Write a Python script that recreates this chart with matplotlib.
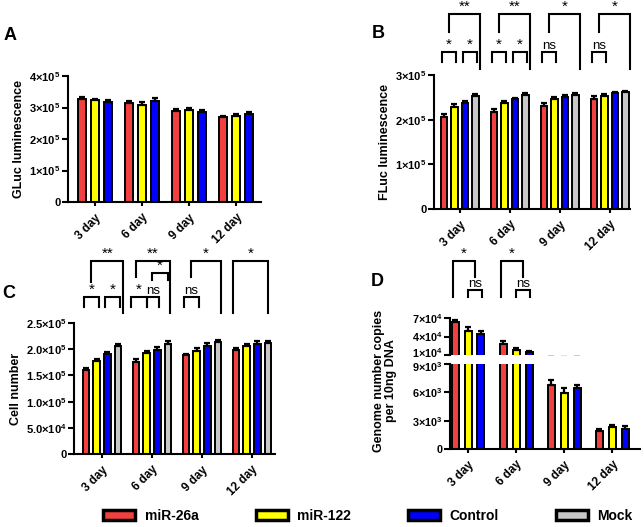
import numpy as np
import matplotlib.pyplot as plt
from matplotlib.patches import Patch
from matplotlib.transforms import blended_transform_factory, ScaledTranslation

plt.rcParams['font.family'] = ['Liberation Sans', 'DejaVu Sans']
plt.rcParams['font.weight'] = 'bold'
plt.rcParams['mathtext.fontset'] = 'custom'
plt.rcParams['mathtext.rm'] = 'Liberation Sans:bold'
plt.rcParams['mathtext.bf'] = 'Liberation Sans:bold'
plt.rcParams['mathtext.it'] = 'Liberation Sans:bold'

days = ['3 day', '6 day', '9 day', '12 day']
groups = ['miR-26a', 'miR-122', 'Control', 'Mock']
colors = ['#f24040', '#ffff00', '#0000ff', '#c8c8c8']

# A: GLuc luminescence (miR-26a, miR-122, Control)
gluc_mir26a = [3.28e5, 3.15e5, 2.90e5, 2.70e5]
gluc_mir122 = [3.23e5, 3.08e5, 2.93e5, 2.72e5]
gluc_control = [3.18e5, 3.22e5, 2.86e5, 2.80e5]
gluc_err = [[0.06e5, 0.05e5, 0.04e5, 0.04e5],
            [0.04e5, 0.10e5, 0.07e5, 0.06e5],
            [0.06e5, 0.07e5, 0.06e5, 0.05e5]]
gluc_ticks = [0, 1e5, 2e5, 3e5, 4e5]
gluc_ticklabels = ['0', '1×10$^{5}$', '2×10$^{5}$', '3×10$^{5}$', '4×10$^{5}$']

# B: FLuc luminescence
fluc_mir26a = [2.07e5, 2.17e5, 2.30e5, 2.46e5]
fluc_mir122 = [2.28e5, 2.38e5, 2.46e5, 2.52e5]
fluc_control = [2.38e5, 2.46e5, 2.50e5, 2.60e5]
fluc_mock = [2.52e5, 2.56e5, 2.56e5, 2.62e5]
fluc_err = [[0.05e5, 0.06e5, 0.08e5, 0.07e5],
            [0.06e5, 0.04e5, 0.05e5, 0.05e5],
            [0.04e5, 0.03e5, 0.05e5, 0.03e5],
            [0.05e5, 0.03e5, 0.03e5, 0.03e5]]
fluc_ticks = [0, 1e5, 2e5, 3e5]
fluc_ticklabels = ['0', '1×10$^{5}$', '2×10$^{5}$', '3×10$^{5}$']

# C: cell number
cell_mir26a = [1.61e5, 1.76e5, 1.88e5, 1.98e5]
cell_mir122 = [1.78e5, 1.92e5, 1.97e5, 2.06e5]
cell_control = [1.91e5, 1.99e5, 2.06e5, 2.10e5]
cell_mock = [2.06e5, 2.10e5, 2.13e5, 2.11e5]
cell_err = [[0.03e5, 0.05e5, 0.03e5, 0.04e5],
            [0.03e5, 0.04e5, 0.05e5, 0.04e5],
            [0.03e5, 0.06e5, 0.05e5, 0.06e5],
            [0.04e5, 0.05e5, 0.04e5, 0.05e5]]
cell_ticks = [0, 0.5e5, 1.0e5, 1.5e5, 2.0e5, 2.5e5]
cell_ticklabels = ['0', '5.0×10$^{4}$', '1.0×10$^{5}$', '1.5×10$^{5}$',
                   '2.0×10$^{5}$', '2.5×10$^{5}$']

# D: genome copies per 10ng DNA (broken axis)
gen_mir26a = [6.35e4, 2.75e4, 6750, 1900]
gen_mir122 = [4.9e4, 1.8e4, 5930, 2330]
gen_control = [4.4e4, 1.45e4, 6460, 2150]
gen_err = [[2500, 6000, 600, 250],
           [6000, 4000, 500, 250],
           [5500, 1500, 350, 300]]
gen_ticks_top = [1e4, 4e4, 7e4]
gen_ticklabels_top = ['1×10$^{4}$', '4×10$^{4}$', '7×10$^{4}$']
gen_ticks_bot = [0, 3e3, 6e3, 9e3]
gen_ticklabels_bot = ['0', '3×10$^{3}$', '6×10$^{3}$', '9×10$^{3}$']

W, H = 644, 527
fig = plt.figure(figsize=(W / 100, H / 100), dpi=100)


def px_axes(l, t, r, b):
    return fig.add_axes([l / W, 1 - b / H, (r - l) / W, (b - t) / H])


def style(ax, xlabels=True):
    for s in ['top', 'right']:
        ax.spines[s].set_visible(False)
    for s in ['left', 'bottom']:
        ax.spines[s].set_linewidth(1.5)
    ax.tick_params(axis='y', direction='out', length=4, width=1.5, labelsize=8, pad=1.5)
    ax.tick_params(axis='x', direction='out', length=3, width=1.5, labelsize=8.5, pad=4)
    ax.set_xticks(np.arange(len(days)))
    if xlabels:
        ax.set_xticklabels(days, rotation=45, ha='right', rotation_mode='anchor')
    for t in ax.get_xticklabels() + ax.get_yticklabels():
        t.set_fontweight('bold')


def draw_bars(ax, series, errs, spacing, width):
    x = np.arange(len(days))
    n = len(series)
    offs = (np.arange(n) - (n - 1) / 2) * spacing
    for i in range(n):
        ax.bar(x + offs[i], series[i], width, color=colors[i], edgecolor='black',
               linewidth=1.4, zorder=2)
        ax.errorbar(x + offs[i], series[i], yerr=[np.zeros(len(days)), errs[i]],
                    fmt='none', ecolor='black', elinewidth=1.6, capsize=2.5,
                    capthick=1.6, zorder=3)
    return offs


def bracket(ax, x1, x2, ytop, yl, yr, label):
    tr = blended_transform_factory(ax.transData, ax.transAxes)
    ax.plot([x1, x1, x2, x2], [yl, ytop, ytop, yr], color='black', lw=1.5,
            transform=tr, clip_on=False, solid_joinstyle='miter')
    fs = 9.5 if label == 'ns' else 11
    ax.text((x1 + x2) / 2, ytop, label, transform=tr, ha='center', va='bottom',
            fontsize=fs, fontweight='normal')


# ---- Panel A
axA = px_axes(68, 76, 261, 202)
draw_bars(axA, [gluc_mir26a, gluc_mir122, gluc_control], gluc_err, 0.277, 0.17)
axA.set_xlim(-0.574, 3.53)
axA.set_ylim(0, 4e5)
axA.set_yticks(gluc_ticks)
axA.set_yticklabels(gluc_ticklabels)
axA.set_ylabel('GLuc luminescence', fontsize=9, fontweight='bold', labelpad=3)
style(axA)

# ---- Panel B
axB = px_axes(434, 75, 630, 209)
offB = draw_bars(axB, [fluc_mir26a, fluc_mir122, fluc_control, fluc_mock], fluc_err, 0.21, 0.13)
axB.set_xlim(-0.51, 3.41)
axB.set_ylim(0, 3e5)
axB.set_yticks(fluc_ticks)
axB.set_yticklabels(fluc_ticklabels)
axB.set_ylabel('FLuc luminescence', fontsize=9, fontweight='bold', labelpad=3)
style(axB)
for g in range(4):
    r, y, b, m = g + offB
    big = '**' if g < 2 else '*'
    if g < 2:
        bracket(axB, r - 0.04, y + 0.04, 1.172, 1.097, 1.097, '*')
        bracket(axB, b - 0.04, m + 0.04, 1.172, 1.097, 1.097, '*')
    else:
        bracket(axB, r - 0.04, y + 0.04, 1.172, 1.097, 1.097, 'ns')
    bracket(axB, (r + y) / 2, m + 0.09, 1.455, 1.32, 1.045, big)

# ---- Panel C
axC = px_axes(74, 323, 275, 454)
offC = draw_bars(axC, [cell_mir26a, cell_mir122, cell_control, cell_mock], cell_err, 0.214, 0.13)
axC.set_xlim(-0.56, 3.46)
axC.set_ylim(0, 2.5e5)
axC.set_yticks(cell_ticks)
axC.set_yticklabels(cell_ticklabels)
axC.set_ylabel('Cell number', fontsize=9, fontweight='bold', labelpad=3)
style(axC)
r, y, b, m = 0 + offC
bracket(axC, r - 0.04, y + 0.04, 1.198, 1.122, 1.122, '*')
bracket(axC, b - 0.04, m + 0.04, 1.198, 1.122, 1.122, '*')
bracket(axC, (r + y) / 2, m + 0.1, 1.473, 1.313, 1.076, '**')
r, y, b, m = 1 + offC
bracket(axC, r - 0.1, y - 0.0, 1.198, 1.122, 1.122, '*')
bracket(axC, y - 0.0, b + 0.03, 1.198, 1.122, 1.122, 'ns')
bracket(axC, (y + b) / 2, m, 1.382, 1.328, 1.328, '*')
bracket(axC, r, m + 0.03, 1.473, 1.351, 1.076, '**')
r, y, b, m = 2 + offC
bracket(axC, r - 0.04, y + 0.04, 1.198, 1.122, 1.122, 'ns')
bracket(axC, (r + y) / 2, m + 0.06, 1.473, 1.351, 1.076, '*')
r, y, b, m = 3 + offC
bracket(axC, r - 0.06, m, 1.473, 1.076, 1.076, '*')

# ---- Panel D (broken y axis)
axDt = px_axes(450, 318, 640, 355)
axDb = px_axes(450, 364, 640, 449)
gen_series = [gen_mir26a, gen_mir122, gen_control]
offD = draw_bars(axDb, gen_series, gen_err, 0.27, 0.146)
draw_bars(axDt, gen_series, gen_err, 0.27, 0.146)
for ax in (axDt, axDb):
    ax.set_xlim(-0.375, 3.58)
axDb.set_ylim(0, 9e3)
axDt.set_ylim(1e4, 7e4)
axDb.set_yticks(gen_ticks_bot)
axDb.set_yticklabels(gen_ticklabels_bot)
axDt.set_yticks(gen_ticks_top)
axDt.set_yticklabels(gen_ticklabels_top)
style(axDb)
style(axDt, xlabels=False)
axDt.spines['bottom'].set_visible(False)
axDt.tick_params(axis='x', bottom=False, labelbottom=False)
axDt.tick_params(axis='y', labelsize=7.8)
axDb.tick_params(axis='y', labelsize=7.8)
# nudge the two labels at the axis break apart a little
lab_1e4 = axDt.get_yticklabels()[0]
lab_1e4.set_transform(lab_1e4.get_transform() + ScaledTranslation(0, 2.5 / 100, fig.dpi_scale_trans))
lab_9e3 = axDb.get_yticklabels()[-1]
lab_9e3.set_transform(lab_9e3.get_transform() + ScaledTranslation(0, -2 / 100, fig.dpi_scale_trans))
for g in range(2):
    r, y, b = g + offD
    bracket(axDt, r - 0.04, (y + b) / 2, 2.54, 1.57, 2.11, '*')
    bracket(axDt, y, b + 0.02, 1.76, 1.57, 1.57, 'ns')
fig.text(385 / W, 1 - 381 / H, 'Genome number copies\nper 10ng DNA', rotation=90,
         ha='center', va='center', fontsize=9, fontweight='bold', linespacing=1.05)

# panel letters
for lab, px, py in [('A', 10, 36), ('B', 378, 33), ('C', 9, 294), ('D', 377, 282)]:
    fig.text(px / W, 1 - py / H, lab, fontsize=13, fontweight='bold', ha='center', va='center')

# legend
handles = [Patch(facecolor=c, edgecolor='black', linewidth=2.5) for c in colors]
fig.legend(handles, groups, loc='center', bbox_to_anchor=(368 / W, 1 - 516 / H), ncol=4,
           frameon=False, fontsize=10, handlelength=2.3, handleheight=0.75,
           columnspacing=4.1, handletextpad=0.7,
           prop={'weight': 'bold', 'size': 10})

fig.savefig('out.png', dpi=100)
